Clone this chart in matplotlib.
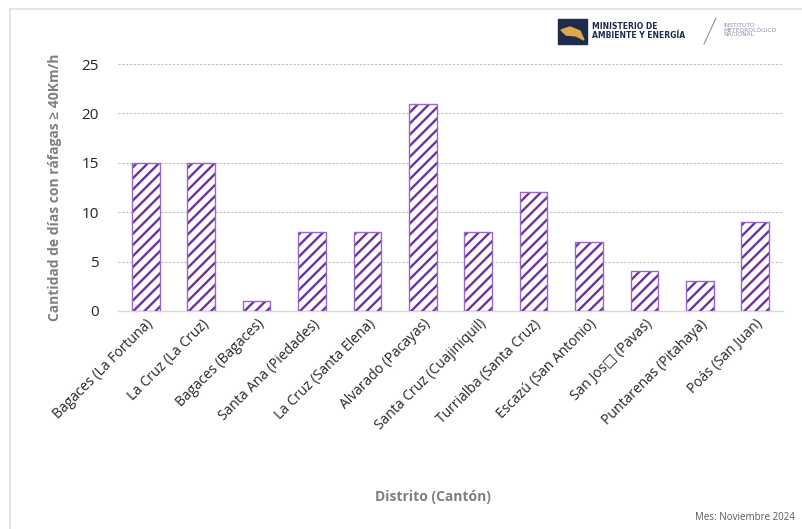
import matplotlib.pyplot as plt
from matplotlib.patches import Rectangle, Polygon
from matplotlib.lines import Line2D

plt.rcParams['font.family'] = ['Open Sans', 'DejaVu Sans']
plt.rcParams['hatch.linewidth'] = 1.7

# Datos
distritos = ['Bagaces (La Fortuna)', 'La Cruz (La Cruz)', 'Bagaces (Bagaces)',
             'Santa Ana (Piedades)', 'La Cruz (Santa Elena)', 'Alvarado (Pacayas)',
             'Santa Cruz (Cuajiniquil)', 'Turrialba (Santa Cruz)', 'Escazú (San Antonio)',
             'San Jos\u25a1 (Pavas)', 'Puntarenas (Pitahaya)', 'Poás (San Juan)']
dias = [15, 15, 1, 8, 8, 21, 8, 12, 7, 4, 3, 9]
y_ticks = [0, 5, 10, 15, 20, 25]

morado = '#7030A0'

fig = plt.figure(figsize=(8.02, 5.29), dpi=100)
ax = fig.add_axes([118 / 802, 218 / 529, 665 / 802, 247 / 529])

plt.rcParams['hatch.color'] = morado
x = range(len(distritos))
barras = ax.bar(x, dias, width=0.5, color='white', edgecolor=morado, hatch='///',
                linewidth=0, zorder=3)
# contorno más claro
ax.bar(x, dias, width=0.5, fill=False, edgecolor='#9966CC', linewidth=1.0, zorder=4)

ax.set_xlim(-0.5, len(distritos) - 0.5)
ax.set_ylim(0, 25)
ax.set_yticks(y_ticks)
ax.set_yticklabels([str(v) for v in y_ticks], fontsize=11, color='#262626')
ax.set_xticks(list(x))
ax.set_xticklabels(distritos, rotation=45, ha='right', rotation_mode='anchor',
                   fontsize=10, color='#262626')
ax.tick_params(axis='y', length=0, pad=14)
ax.tick_params(axis='x', length=0, pad=4)
ax.grid(axis='y', color='#BFBFBF', linestyle=(0, (2, 1.5)), linewidth=0.8, zorder=0)
for s in ['top', 'right', 'left']:
    ax.spines[s].set_visible(False)
ax.spines['bottom'].set_color('#D9D9D9')
ax.spines['bottom'].set_linewidth(1.0)

ax.set_ylabel('Cantidad de días con ráfagas ≥ 40Km/h', fontsize=10,
              fontweight='bold', color='#7F7F7F', labelpad=14)
fig.text(433 / 802, 1 - 497 / 529, 'Distrito (Cantón)', fontsize=10,
         fontweight='bold', color='#7F7F7F', ha='center', va='center')
fig.text(795 / 802, 1 - 518 / 529, 'Mes: Noviembre 2024', fontsize=7,
         color='#595959', ha='right', va='center')

# Marco
fig.add_artist(Line2D([10 / 802, 10 / 802], [0, 1 - 9 / 529],
                      transform=fig.transFigure, color='#E0E0E0', linewidth=1.2))
fig.add_artist(Line2D([10 / 802, 1], [1 - 9 / 529, 1 - 9 / 529],
                      transform=fig.transFigure, color='#E0E0E0', linewidth=1.2))

# Logo
fig.add_artist(Rectangle((558 / 802, 1 - 44 / 529), 29 / 802, 25 / 529,
                         transform=fig.transFigure, color='#1F2A4D'))
fig.add_artist(Polygon([(561 / 802, 1 - 30 / 529), (570 / 802, 1 - 27 / 529),
                        (580 / 802, 1 - 31 / 529), (584 / 802, 1 - 40 / 529),
                        (576 / 802, 1 - 36 / 529), (566 / 802, 1 - 35 / 529)],
                       closed=True, transform=fig.transFigure, color='#D9A94A'))
fig.text(592 / 802, 1 - 31 / 529, 'MINISTERIO DE\nAMBIENTE Y ENERGÍA', fontsize=5.5,
         fontweight='bold', color='#1F2A4D', ha='left', va='center',
         family=['DejaVu Sans'], linespacing=1.0)
fig.add_artist(Line2D([704 / 802, 716 / 802], [1 - 44 / 529, 1 - 18 / 529],
                      transform=fig.transFigure, color='#8A8FA8', linewidth=0.8))
fig.text(723 / 802, 1 - 30 / 529, 'INSTITUTO\nMETEOROLÓGICO\nNACIONAL', fontsize=4.3,
         color='#8A8FA8', ha='left', va='center', family=['DejaVu Sans'],
         linespacing=0.95)

fig.savefig('out.png', dpi=100)
